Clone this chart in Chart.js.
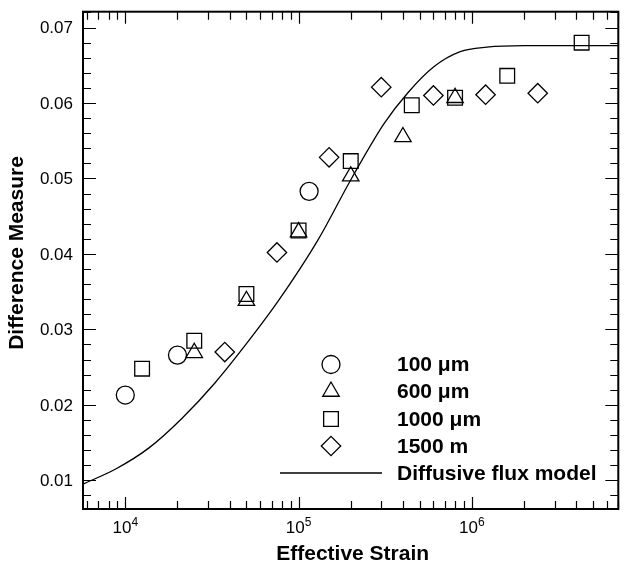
<!DOCTYPE html>
<html>
<head>
<meta charset="utf-8">
<script src="https://cdn.jsdelivr.net/npm/chart.js"></script>
<style>
body { margin: 0; background: #fff; }
</style>
</head>
<body>
<canvas id="strainChart" width="630" height="568"></canvas>
<script>
// values
const circleX = [1e4, 2e4, 1.15e5];
const circleY = [0.0213, 0.0266, 0.0483];
const triX = [2.5e4, 5e4, 1e5, 2e5, 4e5, 8e5];
const triY = [0.0269, 0.0338, 0.0429, 0.0503, 0.0555, 0.0607];
const sqX = [1.25e4, 2.5e4, 5e4, 1e5, 2e5, 4.5e5, 8e5, 1.6e6, 4.3e6];
const sqY = [0.0248, 0.0285, 0.0347, 0.0431, 0.0523, 0.0597, 0.0607, 0.0636, 0.0680];
const diaX = [3.75e4, 7.5e4, 1.5e5, 3e5, 6e5, 1.2e6, 2.4e6];
const diaY = [0.0270, 0.0402, 0.0528, 0.0621, 0.0610, 0.0611, 0.0613];
const modelX = [5700, 8.8e3, 1.37e4, 2.12e4, 3.29e4, 5.12e4, 7.6e4, 1.29e5, 2.01e5, 3.12e5, 4.25e5, 6.03e5, 8.57e5, 1.22e6, 2e6, 7e6];
const modelY = [0.0095, 0.0115, 0.0143, 0.0182, 0.0229, 0.0284, 0.0337, 0.0418, 0.0499, 0.0573, 0.0613, 0.0648, 0.0668, 0.0674, 0.0676, 0.0676];

const seriesLabels = ["100 \u03bcm", "600 \u03bcm", "1000 \u03bcm", "1500 m", "Diffusive flux model"];
const yTickLabels = [0.01, 0.02, 0.03, 0.04, 0.05, 0.06, 0.07];
const xTickLabels = [4, 5, 6]; // decades, drawn as 10^n

function pts(xs, ys) {
	var out = [];
	xs.forEach((x, i) => out.push({ x: x, y: ys[i] }));
	return out;
}

const tickFont = '17px "Liberation Sans", Arial, sans-serif';
const supFont = '12px "Liberation Sans", Arial, sans-serif';
const boldFont = 'bold 21px "Liberation Sans", Arial, sans-serif';

const framePlugin = {
	id: "frame",
	afterDraw(chart) {
		const ctx = chart.ctx;
		const a = chart.chartArea;
		const xs = chart.scales.x;
		const ys = chart.scales.y;
		ctx.save();
		ctx.strokeStyle = "#000";
		ctx.fillStyle = "#000";

		// box
		ctx.lineWidth = 2;
		ctx.strokeRect(a.left, a.top, a.right - a.left, a.bottom - a.top);

		// x ticks (log), inward on bottom and top
		ctx.lineWidth = 1.2;
		for (var d = 3; d <= 6; d++) {
			for (var m = 1; m <= 9; m++) {
				var v = m * Math.pow(10, d);
				if (v < xs.min || v > xs.max) continue;
				var px = Math.round(xs.getPixelForValue(v)) + 0.5;
				var len = m === 1 ? 12 : 8;
				ctx.beginPath();
				ctx.moveTo(px, a.bottom);
				ctx.lineTo(px, a.bottom - len);
				ctx.moveTo(px, a.top);
				ctx.lineTo(px, a.top + len);
				ctx.stroke();
			}
		}
		// y ticks, inward on left and right
		for (var k = 4; k <= 36; k++) {
			var yv = k * 0.002;
			if (yv < ys.min || yv > ys.max) continue;
			var py = Math.round(ys.getPixelForValue(yv)) + 0.5;
			var ylen = k % 5 === 0 ? 13 : 8;
			ctx.beginPath();
			ctx.moveTo(a.left, py);
			ctx.lineTo(a.left + ylen, py);
			ctx.moveTo(a.right, py);
			ctx.lineTo(a.right - ylen, py);
			ctx.stroke();
		}

		// y tick labels
		ctx.font = tickFont;
		ctx.textAlign = "right";
		ctx.textBaseline = "middle";
		yTickLabels.forEach(v => {
			ctx.fillText(v.toFixed(2), a.left - 10, ys.getPixelForValue(v) + 1);
		});

		// x tick labels 10^n
		ctx.textBaseline = "alphabetic";
		ctx.textAlign = "left";
		xTickLabels.forEach(n => {
			ctx.font = tickFont;
			var wBase = ctx.measureText("10").width;
			ctx.font = supFont;
			var wSup = ctx.measureText(String(n)).width;
			var cx = xs.getPixelForValue(Math.pow(10, n));
			var x0 = cx - (wBase + wSup) / 2;
			ctx.font = tickFont;
			ctx.fillText("10", x0, 533);
			ctx.font = supFont;
			ctx.fillText(String(n), x0 + wBase, 526);
		});

		// axis titles
		ctx.font = boldFont;
		ctx.textAlign = "center";
		ctx.textBaseline = "middle";
		ctx.fillText("Effective Strain", (a.left + a.right) / 2 + 2, 554);
		ctx.save();
		ctx.translate(17, 253);
		ctx.rotate(-Math.PI / 2);
		ctx.fillText("Difference Measure", 0, 0);
		ctx.restore();

		// legend
		var rows = [364.5, 391.5, 419, 446, 473];
		ctx.textAlign = "left";
		chart.data.datasets.forEach((ds, i) => {
			var ry = rows[i];
			ctx.strokeStyle = "#000";
			if (ds.showLine) {
				ctx.lineWidth = 1.3;
				ctx.beginPath();
				ctx.moveTo(280, ry);
				ctx.lineTo(382, ry);
				ctx.stroke();
			} else {
				ctx.lineWidth = ds.borderWidth;
				ctx.fillStyle = "rgba(0,0,0,0)";
				Chart.helpers.drawPoint(ctx, {
					pointStyle: ds.pointStyle,
					radius: ds.pointRadius,
					rotation: 0,
					borderWidth: ds.borderWidth
				}, 331, ry);
			}
			ctx.font = boldFont;
			ctx.fillStyle = "#000";
			ctx.fillText(ds.label, 397, ry + 1);
		});
		ctx.restore();
	}
};

function markerSet(label, data, style, r) {
	return {
		label: label,
		data: data,
		pointStyle: style,
		pointRadius: r,
		pointHoverRadius: r,
		borderColor: "#000",
		backgroundColor: "rgba(0,0,0,0)",
		borderWidth: 1.3,
		showLine: false
	};
}

new Chart(document.getElementById("strainChart"), {
	type: "scatter",
	data: {
		datasets: [
			markerSet(seriesLabels[0], pts(circleX, circleY), "circle", 9),
			markerSet(seriesLabels[1], pts(triX, triY), "triangle", 9.5),
			markerSet(seriesLabels[2], pts(sqX, sqY), "rect", 10.4),
			markerSet(seriesLabels[3], pts(diaX, diaY), "rectRot", 9.7),
			{
				label: seriesLabels[4],
				data: pts(modelX, modelY),
				showLine: true,
				pointRadius: 0,
				borderColor: "#000",
				borderWidth: 1.3,
				cubicInterpolationMode: "monotone",
				fill: false
			}
		]
	},
	options: {
		responsive: false,
		animation: false,
		layout: { padding: { left: 83, right: 8, top: 8, bottom: 59 } },
		plugins: { legend: { display: false }, tooltip: { enabled: false } },
		scales: {
			x: { type: "logarithmic", min: 5700, max: 7e6, display: false },
			y: { type: "linear", min: 0.0062, max: 0.0721, display: false }
		}
	},
	plugins: [framePlugin]
});
</script>
</body>
</html>
